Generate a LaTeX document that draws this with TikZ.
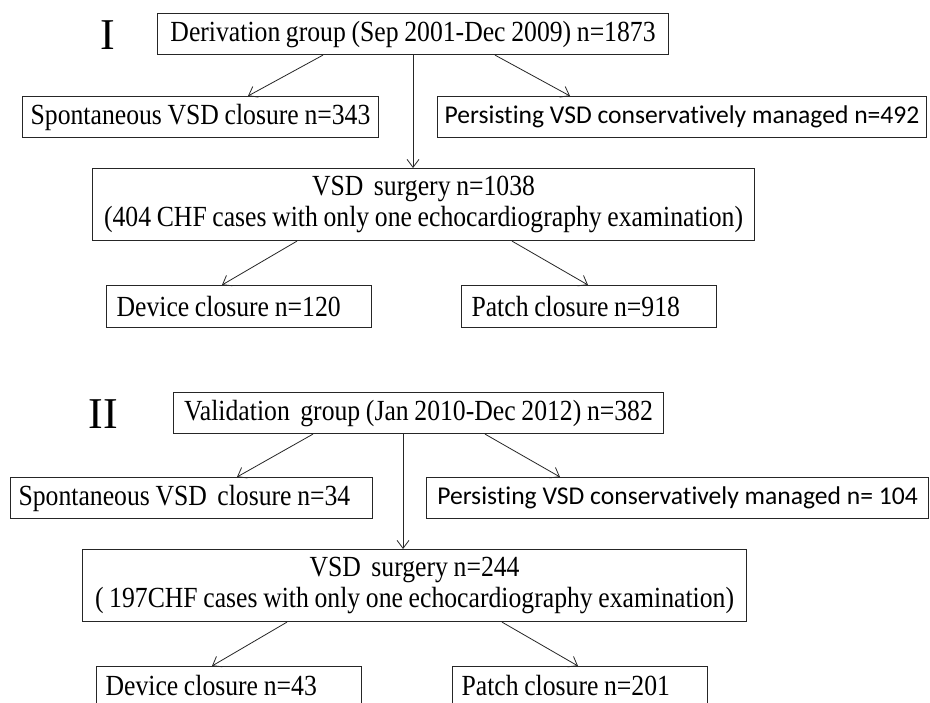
\documentclass[tikz,border=0pt]{standalone}
\usepackage{fontspec}
\setmainfont{Liberation Serif}[FakeStretch=0.88,WordSpace=0.88]
\newfontfamily\calib{Carlito}[Ligatures=NoCommon]
\newfontfamily\numfont{Liberation Serif}
\usetikzlibrary{arrows.meta}
\newcommand{\lefttext}[2]{\makebox[#1][l]{#2}}
\begin{document}
\begin{tikzpicture}[x=1pt,y=-1pt,
  box/.style={draw=black!85, line width=1.1pt, inner sep=0pt, anchor=north west,
    font=\fontsize{29.2}{31}\selectfont},
  sbox/.style={box, font=\calib\fontsize{25.6}{31}\selectfont},
  arr/.style={draw=black!85, line width=0.8pt, -{Straight Barb[length=8pt,width=12pt]}},
  numeral/.style={font=\numfont\fontsize{44}{44}\selectfont, inner sep=0pt}
]
\clip (0,0) rectangle (930,703);
\fill[white] (0,0) rectangle (930,703);

% Section I
\node[numeral] (n1) at (108,35) {I};
\node[box, minimum width=511pt, minimum height=41pt] (D1) at (157,13)
  {Derivation group (Sep 2001-Dec 2009) n=1873};
\node[box, minimum width=356pt, minimum height=41pt] (S1) at (22,96)
  {Spontaneous VSD closure n=343};
\node[sbox, minimum width=489pt, minimum height=41pt] (P1) at (437,96)
  {Persisting VSD conservatively managed n=492};
\node[box, minimum width=662pt, minimum height=72pt, align=center] (V1) at (92,168)
  {VSD\, surgery n=1038\\(404 CHF cases with only one echocardiography examination)};
\node[box, minimum width=265pt, minimum height=42pt] (E1) at (106,285)
  {\lefttext{245pt}{Device closure n=120}};
\node[box, minimum width=255pt, minimum height=42pt] (T1) at (461,285)
  {\lefttext{235pt}{Patch closure n=918}};

\draw[arr] ([xshift=166pt]D1.south west) -- ([xshift=226pt]S1.north west);
\draw[arr] ([xshift=338pt]D1.south west) -- ([xshift=133pt]P1.north west);
\draw[arr] ([xshift=256pt]D1.south west) -- ([xshift=321pt]V1.north west);
\draw[arr] ([xshift=205pt]V1.south west) -- ([xshift=116pt]E1.north west);
\draw[arr] ([xshift=420pt]V1.south west) -- ([xshift=127pt]T1.north west);

% Section II
\node[numeral] (n2) at (103,414) {II};
\node[box, minimum width=490pt, minimum height=41pt] (D2) at (173,392)
  {Validation\, group (Jan 2010-Dec 2012) n=382};
\node[box, minimum width=362pt, minimum height=41pt] (S2) at (10,477)
  {\lefttext{346pt}{Spontaneous VSD\, closure n=34}};
\node[sbox, minimum width=502pt, minimum height=41pt] (P2) at (426,477)
  {Persisting VSD conservatively managed n= 104};
\node[box, minimum width=664pt, minimum height=72pt, align=center] (V2) at (82,549)
  {VSD\, surgery n=244\\( 197CHF cases with only one echocardiography examination)};
\node[box, minimum width=265pt, minimum height=38pt] (E2) at (96,666)
  {\lefttext{247pt}{Device closure n=43}};
\node[box, minimum width=255pt, minimum height=38pt] (T2) at (452,666)
  {\lefttext{237pt}{Patch closure n=201}};

\draw[arr] ([xshift=140pt]D2.south west) -- ([xshift=227pt]S2.north west);
\draw[arr] ([xshift=312pt]D2.south west) -- ([xshift=134pt]P2.north west);
\draw[arr] ([xshift=230pt]D2.south west) -- ([xshift=321pt]V2.north west);
\draw[arr] ([xshift=205pt]V2.south west) -- ([xshift=116pt]E2.north west);
\draw[arr] ([xshift=420pt]V2.south west) -- ([xshift=126pt]T2.north west);
\end{tikzpicture}
\end{document}
